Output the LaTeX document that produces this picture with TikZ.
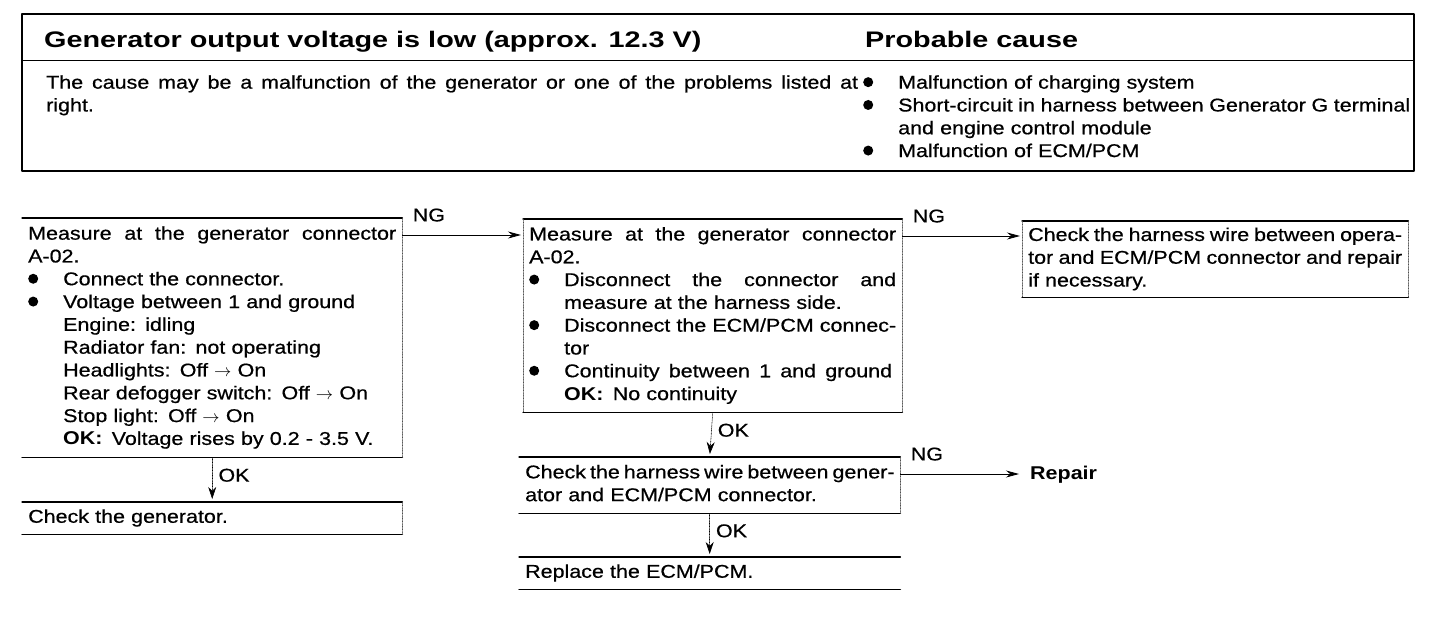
\documentclass[tikz,border=0pt]{standalone}
\usepackage{fontspec}
\setmainfont[FakeStretch=1.16, UprightFeatures={FakeBold=0.6}]{Liberation Sans}
\newfontfamily\titlefont[FakeStretch=1.28]{Liberation Sans}
\usetikzlibrary{arrows.meta,positioning}
\newcommand{\blt}{\makebox[35pt][l]{\tikz[baseline=0pt]\fill (5pt,6.5pt) circle (5pt);}}
\newcommand{\fillline}[2]{{\spaceskip=0pt\xspaceskip=0pt\makebox[#1][s]{#2}}}
\newcommand{\ind}{\hspace*{35pt}}
\newcommand{\onoff}{Off \(\rightarrow\) On}
\begin{document}
\begin{tikzpicture}[x=1pt, y=-1pt, line join=round, line cap=round, >={Stealth[length=13pt,width=7pt]},
	every node/.style={font=\fontsize{18.5}{22.8}\selectfont},
	stepbox/.style={anchor=north west, inner xsep=6pt, inner ysep=0pt, align=left},
	rule/.style={line width=1.3pt},
	side/.style={densely dotted, line width=0.6pt, black!70},
	ngline/.style={->, line width=0.8pt, shorten >=2pt},
	okline/.style={->, densely dotted, line width=0.6pt, shorten >=3pt, >={Stealth[length=12pt,width=8pt]}},
	nglabel/.style={pos=0, anchor=south west, inner sep=0pt, xshift=10pt, yshift=13pt},
	oklabel/.style={pos=0.4, anchor=west, inner sep=0pt, xshift=6pt}]
	\useasboundingbox (0,0) rectangle (1456,618);
	\draw[line width=2.2pt] (22,14) rectangle (1414,171);
	\draw[line width=1pt] (22,61) -- (1414,61);
	\node[anchor=base west, inner sep=0pt, font=\titlefont\bfseries\fontsize{22.5}{27}\selectfont] (title) at (44,48) {Generator output voltage is low (approx. 12.3 V)};
	\node[anchor=base west, inner sep=0pt, font=\titlefont\bfseries\fontsize{22.5}{27}\selectfont] (cause) at (865,48) {Probable cause};
	\node[anchor=north west, inner sep=0pt, text width=812pt, align=left] (desc) at (46,72.5) {\strut\fillline{812pt}{The cause may be a malfunction of the generator or one of the problems listed at}\\ right.};
	\node[anchor=north west, inner sep=0pt, text width=550pt, align=left] (causes) at (863,72.5) {\strut\blt Malfunction of charging system\\ \blt\fillline{512pt}{Short-circuit in harness between Generator G terminal}\\ \ind and engine control module\\ \blt Malfunction of ECM/PCM};
	\node[stepbox, text width=368pt, minimum height=239pt] (meas1) at (22,218) {\strut\fillline{368pt}{Measure at the generator connector}\\ A-02.\\ \blt Connect the connector.\\ \blt Voltage between 1 and ground\\ \ind Engine: idling\\ \ind Radiator fan: not operating\\ \ind Headlights: \onoff\\ \ind Rear defogger switch: \onoff\\ \ind Stop light: \onoff\\ \ind\textbf{OK:}\enspace Voltage rises by 0.2 - 3.5 V.\strut};
	\node[stepbox, text width=368pt, minimum height=32pt] (gen) at (22,502) {\strut Check the generator.};
	\node[stepbox, text width=367pt, minimum height=193pt] (meas2) at (523,219) {\strut\fillline{367pt}{Measure at the generator connector}\\ A-02.\\ \blt\fillline{332pt}{Disconnect the connector and}\\ \ind measure at the harness side.\\ \blt\fillline{332pt}{Disconnect the ECM/PCM connec-}\\ \ind tor\\ \blt\fillline{328pt}{Continuity between 1 and ground}\\ \ind\textbf{OK:}\enspace No continuity\strut};
	\node[stepbox, text width=369pt, minimum height=56pt] (harness) at (519,457) {\strut\fillline{369pt}{Check the harness wire between gener-}\\ ator and ECM/PCM connector.\strut};
	\node[stepbox, text width=369pt, minimum height=32pt] (ecm) at (519,557) {\strut Replace the ECM/PCM.};
	\node[stepbox, text width=374pt, minimum height=76pt] (oper) at (1022,221) {\strut\fillline{374pt}{Check the harness wire between opera-}\\ \fillline{374pt}{tor and ECM/PCM connector and repair}\\ if necessary.\strut};
	\node[anchor=west, inner sep=0pt, font=\fontsize{18.5}{22.8}\selectfont\bfseries] (repair) at (1030,475) {Repair};
	\foreach \n in {meas1,gen,meas2,harness,ecm,oper}
		\draw[rule] (\n.north west) -- (\n.north east) (\n.south west) -- (\n.south east);
	\foreach \n in {meas1,gen,meas2,harness,oper}
		\draw[side] (\n.north east) -- (\n.south east);
	\foreach \n in {meas2,oper}
		\draw[side] (\n.north west) -- (\n.south west);
	\draw[ngline] ([yshift=-17pt]meas1.north east) coordinate (ng1) -- node[nglabel] {NG} (ng1 -| meas2.west);
	\draw[ngline] ([yshift=-17pt]meas2.north east) coordinate (ng2) -- node[nglabel] {NG} (ng2 -| oper.west);
	\draw[ngline, shorten >=11pt] ([yshift=-17pt]harness.north east) coordinate (ng3) -- node[nglabel] {NG} (ng3 -| repair.west);
	\draw[okline] (meas1.south) -- node[oklabel] {OK} (gen.north);
	\draw[okline] (meas2.south) -- node[oklabel] {OK} (harness.north);
	\draw[okline] (harness.south) -- node[oklabel] {OK} (ecm.north);
\end{tikzpicture}
\end{document}
